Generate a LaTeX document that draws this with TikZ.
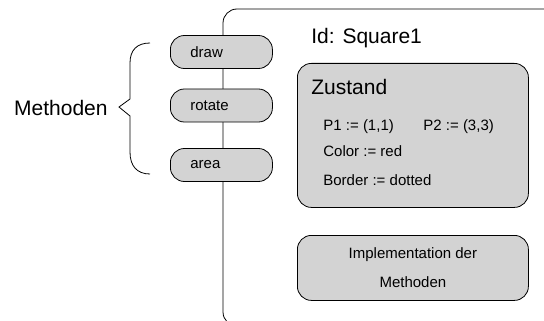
\documentclass[tikz,border=0pt]{standalone}
\usepackage{fontspec}
\setmainfont{Liberation Sans}
\usepackage{tikz}
\usetikzlibrary{calc}
\usetikzlibrary{positioning}
\usepackage{xcolor}
\definecolor{BoxGray}{RGB}{211, 211, 211}

\begin{document}
\begin{tikzpicture}[x=1pt, y=-1pt, line width=0.8pt,
  pill/.style={draw, fill=BoxGray, rounded corners=14pt, anchor=west, minimum height=33pt,
    text width=62pt, align=left, inner xsep=20pt, inner ysep=0pt, font=\fontsize{15}{18}\selectfont},
  panel/.style={draw, fill=BoxGray, rounded corners=14pt, minimum width=231pt, inner sep=0pt},
  big/.style={inner sep=0pt, font=\fontsize{21}{25}\selectfont},
  small/.style={inner sep=0pt, anchor=base west, font=\fontsize{15}{18}\selectfont}]

\useasboundingbox (0,0) rectangle (544,321);

% object outline
\begin{scope}
  \clip (0,0) rectangle (544,321);
  \draw[rounded corners=14pt] (560,9) -- (223,9) -- (223,326) -- (560,326);
\end{scope}

\node[pill] (draw)   at (170,52)    {draw};
\node[pill] (rotate) at (170,105.5) {rotate};
\node[pill] (area)   at (170,165)   {area};

\node[big, anchor=base east] (meth) at (108,115) {Methoden};

\coordinate (bt) at (150,43);
\coordinate (bb) at (150,174);
\draw (bt) .. controls (137,43) and (130,50) .. (130,63) -- (130,99) -- (119,107)
  -- (130,116) -- (130,152) .. controls (130,166) and (137,174) .. (bb);

\node[big, anchor=base west] (id) at (311,44) {Id: Square1};

\node[panel, minimum height=144pt, anchor=north west] (zustand) at (297,63) {};
\node[big, anchor=base west] (ztitle) at ($(zustand.north west)+(14,32)$) {Zustand};
\node[small] (p1)     at ($(zustand.north west)+(26,68)$) {P1 := (1,1)};
\node[small] (p2)     at ($(zustand.north west)+(126,68)$) {P2 := (3,3)};
\node[small] (color)  at ($(zustand.north west)+(26,94)$) {Color := red};
\node[small] (border) at ($(zustand.north west)+(26,122)$) {Border := dotted};

\node[panel, minimum height=65pt, anchor=north west, align=center,
  font=\fontsize{15}{28}\selectfont] (impl) at (297,235) {Implementation der\\[1pt]Methoden};

\end{tikzpicture}
\end{document}
